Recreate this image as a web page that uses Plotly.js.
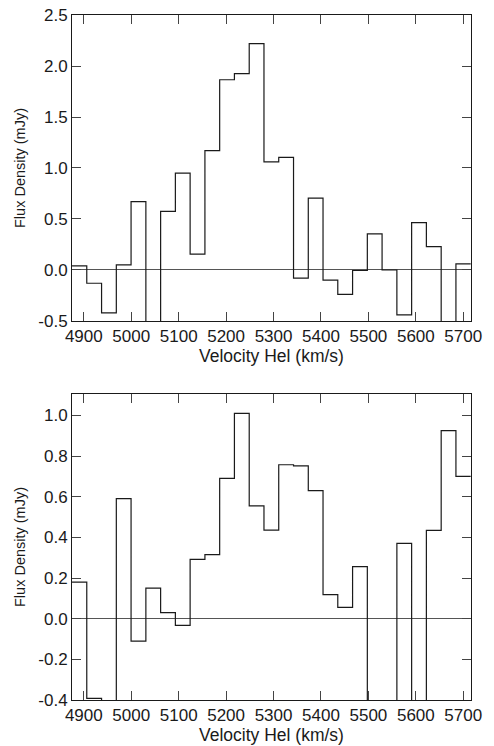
<!DOCTYPE html>
<html>
<head>
<meta charset="utf-8">
<script src="https://cdn.plot.ly/plotly-3.0.1.min.js"></script>
<style>html,body{margin:0;padding:0;background:#fff;}#chart{width:494px;height:746px;}</style>
</head>
<body>
<div id="chart"></div>
<script>
// Bin centres (km/s), shared by both panels
const velocity = [4890.7, 4921.8, 4953.0, 4984.1, 5015.2, 5046.4, 5077.5, 5108.6, 5139.7,
  5170.9, 5202.0, 5233.1, 5264.3, 5295.4, 5326.5, 5357.7, 5388.8, 5419.9, 5451.0,
  5482.2, 5513.3, 5544.4, 5575.6, 5606.7, 5637.8, 5669.0, 5700.1];
const binWidth = 31.13;

// Upper panel flux density (mJy)
const flux1 = [0.04, -0.13, -0.42, 0.05, 0.67, -0.60, 0.575, 0.95, 0.155, 1.17, 1.865,
  1.925, 2.22, 1.06, 1.105, -0.08, 0.705, -0.10, -0.24, -0.005, 0.355, 0.0, -0.44,
  0.465, 0.23, -0.60, 0.06];

// Lower panel flux density (mJy)
const flux2 = [0.18, -0.392, -0.50, 0.59, -0.11, 0.15, 0.03, -0.033, 0.292, 0.315, 0.69,
  1.01, 0.555, 0.436, 0.757, 0.752, 0.63, 0.118, 0.056, 0.256, -0.45, -0.50, 0.37,
  -0.50, 0.434, 0.925, 0.70];

const xTicks = [4900, 5000, 5100, 5200, 5300, 5400, 5500, 5600, 5700];
const xTickText = ["4900", "5000", "5100", "5200", "5300", "5400", "5500", "5600", "5700"];
const y1Ticks = [-0.5, 0.0, 0.5, 1.0, 1.5, 2.0, 2.5];
const y1TickText = ["-0.5", "0.0", "0.5", "1.0", "1.5", "2.0", "2.5"];
const y2Ticks = [-0.4, -0.2, 0.0, 0.2, 0.4, 0.6, 0.8, 1.0];
const y2TickText = ["-0.4", "-0.2", "0.0", "0.2", "0.4", "0.6", "0.8", "1.0"];

function steps(vals) {
  const xs = velocity.map(v => v - binWidth / 2);
  xs.push(velocity[velocity.length - 1] + binWidth / 2);
  const ys = vals.slice();
  ys.push(vals[vals.length - 1]);
  return {x: xs, y: ys};
}

const s1 = steps(flux1), s2 = steps(flux2);
const lineStyle = {color: '#1a1a1a', width: 1.2, shape: 'hv'};

const traces = [
  {x: s1.x, y: s1.y, type: 'scatter', mode: 'lines', line: lineStyle, xaxis: 'x', yaxis: 'y', hoverinfo: 'skip'},
  {x: s2.x, y: s2.y, type: 'scatter', mode: 'lines', line: lineStyle, xaxis: 'x2', yaxis: 'y2', hoverinfo: 'skip'}
];

const font = {family: 'Liberation Sans, Arial, Helvetica, sans-serif', color: '#1a1a1a'};
function xax(anchor) {
  return {
    anchor: anchor, range: [4875.1, 5716.3], tickmode: 'array', tickvals: xTicks, ticktext: xTickText,
    ticks: 'inside', ticklen: 9, tickcolor: '#444', tickwidth: 1,
    showline: true, linecolor: '#1a1a1a', linewidth: 1, mirror: 'ticks',
    showgrid: false, zeroline: false,
    tickfont: Object.assign({size: 17}, font),
    title: {text: 'Velocity Hel (km/s)', font: Object.assign({size: 17.5}, font), standoff: 3}
  };
}
function yax(anchor, domain, range, tv, tt) {
  return {
    anchor: anchor, domain: domain, range: range, tickmode: 'array', tickvals: tv, ticktext: tt,
    ticks: 'inside', ticklen: 9, tickcolor: '#444', tickwidth: 1,
    showline: true, linecolor: '#1a1a1a', linewidth: 1, mirror: 'ticks',
    showgrid: false, zeroline: true, zerolinecolor: '#555', zerolinewidth: 1,
    tickfont: Object.assign({size: 17}, font),
    title: {text: 'Flux Density (mJy)', font: Object.assign({size: 14.5}, font), standoff: 9}
  };
}

const layout = {
  width: 494, height: 746,
  margin: {l: 72, r: 23, t: 15, b: 46},
  paper_bgcolor: '#fff', plot_bgcolor: '#fff',
  showlegend: false,
  xaxis: xax('y'),
  yaxis: yax('x', [0.5533, 1], [-0.5, 2.5], y1Ticks, y1TickText),
  xaxis2: xax('y2'),
  yaxis2: yax('x2', [0, 0.4467], [-0.4, 1.105], y2Ticks, y2TickText)
};

Plotly.newPlot('chart', traces, layout, {displayModeBar: false, staticPlot: true});
</script>
</body>
</html>
